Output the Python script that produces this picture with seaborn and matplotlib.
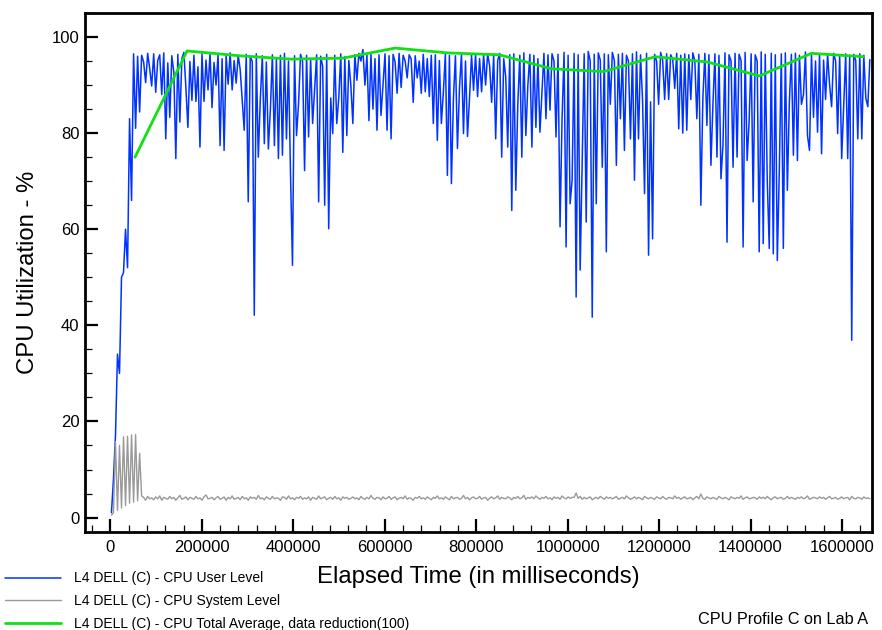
import numpy as np
import pandas as pd
import matplotlib
matplotlib.use("Agg")
import matplotlib.pyplot as plt
from matplotlib.ticker import MultipleLocator
import seaborn as sns

# sample clock of the logger (ms)
sample_start_ms = 2200
sample_step_ms = 4400

cpu_user = [
    1, 8, 17, 34, 30, 50, 51, 60, 52, 83,
    66, 96.5, 81, 96, 84.4, 96.2, 94.8, 90.5, 96.6, 93.5,
    89.8, 96.5, 88.5, 95.1, 96.3, 88, 96.7, 78.8, 94.6, 83.3,
    96.1, 92.7, 74.7, 96.4, 82.3, 95.5, 96.8, 89.5, 81.2, 94.9,
    86.8, 96.2, 86.6, 93.8, 77.1, 96.5, 86.6, 95.2, 89, 96.6,
    85.3, 94.7, 90, 96.3, 77.4, 95.5, 76.4, 96.1, 90.2, 96.7,
    89, 95.1, 90.4, 96.2, 93.2, 87, 80.6, 96.4, 65.7, 95.9,
    94.9, 42.1, 96.5, 75, 87, 96.1, 77.8, 94.8, 76.7, 84.9,
    96.3, 77.4, 95.5, 74.7, 96.2, 75.4, 96.6, 78.8, 95, 71.6,
    52.5, 96.1, 79.5, 86, 96.4, 94.9, 72.2, 96.2, 79.2, 95.5,
    82, 89.3, 96.3, 65.7, 96, 93.9, 65, 96.4, 60.1, 87.3,
    79.9, 96.2, 82, 87.3, 96.5, 76, 95.9, 79.5, 95.1, 90,
    82, 96.3, 91, 96.6, 95, 97.4, 90, 96.2, 82.6, 96.4,
    85, 95.5, 80.6, 96.3, 83.7, 90, 96.5, 80.6, 96.1, 78.8,
    96.4, 94.8, 88.3, 96.6, 89.5, 96.2, 95, 91.5, 96.3, 95.4,
    86.4, 96.1, 91.5, 95, 88.3, 96.4, 88.6, 95.5, 87.6, 96.2,
    82, 96.3, 78.5, 95.1, 82, 88.6, 96.5, 71.2, 96.2, 69.5,
    87.3, 96.1, 76.8, 89.3, 96.4, 79.9, 95, 79.3, 87.3, 96.2,
    88.9, 96.4, 87.6, 95.5, 88.6, 96.3, 90, 96.5, 94, 86.4,
    96.2, 78.8, 95.1, 96.6, 75, 95.5, 91.7, 77.1, 96.3, 63.9,
    96.5, 68.1, 86, 96.2, 75, 96.7, 79.5, 90, 96.4, 77.1,
    96.2, 81.2, 95.5, 80.2, 88.6, 96.6, 83, 96.3, 84.8, 96.5,
    95, 79.2, 96.4, 60.5, 83, 96.8, 56.3, 96.2, 65.3, 70.2,
    96.6, 45.9, 96.3, 51.5, 74, 96.5, 61.5, 97, 95, 41.7,
    96.4, 65.3, 96.7, 95.2, 72.9, 96.5, 55.3, 96.3, 86, 96.8,
    95.1, 73.3, 96.4, 83, 96.6, 76.4, 96.2, 95, 78.8, 96.5,
    70.2, 96.9, 78.8, 96.3, 87, 67.4, 96.6, 54.6, 86.5, 58,
    96.4, 95, 86, 96.8, 95.2, 87, 96.5, 87, 96.3, 95.4,
    89.3, 96.6, 80.9, 96.2, 80, 96.5, 80.6, 96.3, 87, 96.7,
    95.1, 83, 96.4, 65, 87.3, 96.6, 81.6, 96.3, 73.3, 86,
    96.5, 75, 96.2, 70.5, 77.6, 96.7, 57.3, 96.3, 95, 72.9,
    96.6, 75, 96.4, 95.1, 56.3, 96.8, 74.3, 82.5, 96.5, 65.7,
    96.3, 95, 55.3, 96.9, 57, 96.4, 70.2, 56, 96.6, 54.9,
    96.3, 53.5, 72, 96.5, 56, 96.7, 68.1, 86.5, 96.4, 75.4,
    96.6, 74.3, 96.2, 86, 88, 96.9, 79.5, 76.4, 96.3, 83.3,
    95, 80.2, 96.5, 75.7, 95.2, 87, 96.4, 90, 85.5, 96.6,
    95, 79.9, 96.3, 74.7, 85.5, 96.5, 74.7, 96.2, 36.9, 96.4,
    95.1, 78.8, 96.5, 78.8, 96.2, 87.3, 85.5, 95.3,
]

cpu_system = [
    0.5, 1, 15.8, 1.5, 15, 2, 16.8, 2.5, 16.9, 3,
    17.2, 3.2, 17.3, 3.5, 13.4, 4.5, 4.2, 3.6, 4.4, 3.9,
    4.1, 3.7, 4.3, 3.9, 4.5, 3.6, 4.2, 4.0, 3.8, 4.4,
    3.9, 4.2, 3.6, 4.1, 4.6, 3.8, 4.0, 4.3, 3.7, 4.2,
    4.0, 3.8, 4.4, 3.9, 4.1, 3.6, 4.3, 4.7, 3.9, 4.0,
    4.2, 3.7, 4.1, 4.4, 3.8, 4.0, 4.3, 3.6, 4.2, 3.9,
    4.5, 3.8, 4.0, 4.2, 3.7, 4.4, 3.9, 4.1, 3.6, 4.3,
    4.0, 4.2, 3.8, 4.6, 3.9, 4.1, 3.7, 4.3, 4.0, 3.8,
    4.4, 3.9, 4.1, 4.0, 3.6, 4.3, 4.2, 3.8, 4.5, 3.9,
    4.1, 3.7, 4.2, 4.0, 4.4, 3.8, 4.1, 3.9, 4.3, 3.6,
    4.2, 4.0, 3.8, 4.5, 3.9, 4.1, 4.3, 3.7, 4.0, 4.2,
    3.8, 4.4, 3.9, 4.1, 3.6, 4.3, 4.0, 4.2, 3.8, 4.0,
    4.3, 3.9, 4.1, 3.7, 4.4, 4.0, 3.8, 4.2, 3.9, 4.6,
    4.0, 3.8, 4.2, 4.1, 3.7, 4.3, 3.9, 4.0, 4.4, 3.8,
    4.1, 4.3, 3.7, 4.0, 4.2, 3.9, 4.5, 3.8, 4.1, 4.0,
    3.6, 4.2, 4.0, 4.4, 3.9, 4.1, 3.8, 4.3, 4.0, 3.7,
    4.2, 4.0, 4.5, 3.9, 4.1, 3.8, 4.3, 4.0, 3.7, 4.4,
    3.9, 4.1, 4.2, 3.8, 4.0, 4.6, 3.9, 4.2, 3.7, 4.1,
    4.3, 3.9, 4.0, 4.4, 3.8, 4.1, 4.2, 3.6, 4.0, 4.3,
    3.9, 4.1, 4.5, 3.8, 4.2, 4.0, 3.9, 4.3, 4.1, 3.7,
    4.2, 4.0, 4.4, 3.9, 4.1, 4.6, 3.8, 4.2, 4.0, 4.3,
    3.9, 4.5, 4.1, 3.8, 4.2, 4.0, 4.4, 3.9, 4.1, 3.7,
    4.3, 4.0, 4.2, 3.8, 4.5, 4.1, 3.9, 4.3, 4.0, 4.2,
    4.2, 5.1, 4.0, 4.4, 3.8, 4.2, 3.9, 4.1, 4.3, 3.7,
    4.0, 4.2, 3.9, 4.4, 4.1, 3.8, 4.3, 4.0, 4.2, 3.9,
    4.1, 4.4, 3.8, 4.0, 4.2, 3.9, 4.5, 4.1, 3.8, 4.0,
    4.3, 3.9, 4.2, 4.0, 3.7, 4.4, 4.1, 3.9, 4.2, 4.0,
    3.8, 4.3, 4.1, 3.9, 4.4, 4.0, 3.8, 4.2, 4.1, 3.9,
    4.5, 4.0, 4.2, 3.8, 4.1, 4.3, 3.9, 4.0, 4.2, 3.7,
    4.1, 4.4, 3.9, 4.9, 4.0, 3.8, 4.3, 4.1, 3.9, 4.2,
    4.0, 3.8, 4.4, 4.1, 3.9, 4.2, 4.0, 3.7, 4.3, 4.1,
    3.9, 4.2, 4.0, 4.5, 3.8, 4.1, 4.3, 3.9, 4.0, 4.2,
    4.1, 3.8, 4.3, 4.0, 4.2, 3.9, 4.4, 4.0, 3.7, 4.1,
    4.3, 3.9, 4.1, 4.2, 3.8, 4.0, 4.4, 3.9, 4.2, 4.0,
    3.8, 4.2, 4.0, 4.3, 3.9, 4.1, 4.5, 3.8, 4.0, 4.2,
    4.1, 3.9, 4.3, 4.0, 4.2, 3.8, 4.1, 4.4, 3.9, 4.0,
    4.2, 3.8, 4.0, 4.3, 3.9, 4.1, 4.2, 3.7, 4.4, 4.0,
    3.9, 4.2, 4.1, 3.8, 4.3, 4.0, 4.1, 3.9,
]

# total average, one point per 100 samples
avg_time_ms = [53800, 167600, 281400, 395200, 509000, 622800, 736600, 850400,
               964200, 1078000, 1191800, 1305600, 1419400, 1533200, 1647000]
cpu_total_avg = [75.0, 97.1, 96.1, 95.4, 95.6, 97.7, 96.7, 96.3,
                 93.4, 92.8, 95.9, 94.8, 91.9, 96.6, 95.9]

sample_time_ms = sample_start_ms + sample_step_ms * np.arange(len(cpu_user))

df = pd.DataFrame({"t": sample_time_ms, "user": cpu_user, "system": cpu_system})
avg = pd.DataFrame({"t": avg_time_ms, "avg": cpu_total_avg})

sns.set_style("white")
plt.rcParams["font.family"] = ["Liberation Sans", "DejaVu Sans"]
plt.rcParams["text.color"] = "black"
plt.rcParams["axes.labelcolor"] = "black"
plt.rcParams["xtick.color"] = "black"
plt.rcParams["ytick.color"] = "black"

fig = plt.figure(figsize=(8.82, 6.3), dpi=100)
ax = fig.add_axes([0.0964, 0.1556, 0.8924, 0.8238])

sns.lineplot(data=df, x="t", y="user", ax=ax, color="#0033ff", linewidth=1.1,
             label="L4 DELL (C) - CPU User Level")
sns.lineplot(data=df, x="t", y="system", ax=ax, color="#999999", linewidth=1.0,
             label="L4 DELL (C) - CPU System Level")
sns.lineplot(data=avg, x="t", y="avg", ax=ax, color="#11e011", linewidth=2.0,
             label="L4 DELL (C) - CPU Total Average, data reduction(100)")

ax.set_xlim(-55600, 1666000)
ax.set_ylim(-3, 105)
ax.xaxis.set_major_locator(MultipleLocator(200000))
ax.xaxis.set_minor_locator(MultipleLocator(40000))
ax.yaxis.set_major_locator(MultipleLocator(20))
ax.yaxis.set_minor_locator(MultipleLocator(5))
ax.ticklabel_format(axis="x", style="plain", useOffset=False)

ax.tick_params(which="major", direction="in", length=9.5, width=1.6,
               labelsize=12, color="black", labelcolor="black",
               bottom=True, left=True)
ax.tick_params(which="minor", direction="in", length=4.8, width=0.9,
               color="black", bottom=True, left=True)
ax.tick_params(axis="x", pad=6)
ax.tick_params(axis="y", pad=4)

for s in ax.spines.values():
    s.set_color("black")
    s.set_linewidth(2)

ax.set_xlabel("Elapsed Time (in milliseconds)", fontsize=17.2)
ax.set_ylabel("CPU Utilization - %", fontsize=17.2)
ax.xaxis.set_label_coords(0.5, -0.066)
ax.yaxis.set_label_coords(-0.058, 0.5)

ax.legend(loc="upper left", bbox_to_anchor=(0.0057, 0.093),
          bbox_transform=fig.transFigure, frameon=False, fontsize=10,
          handlelength=4.0, handletextpad=0.95, labelspacing=0.62,
          borderpad=0, borderaxespad=0)

fig.text(868 / 882, 1 - 619 / 630, "CPU Profile C on Lab A", fontsize=11.7,
         ha="right", va="center")

fig.savefig("out.png", dpi=100)
